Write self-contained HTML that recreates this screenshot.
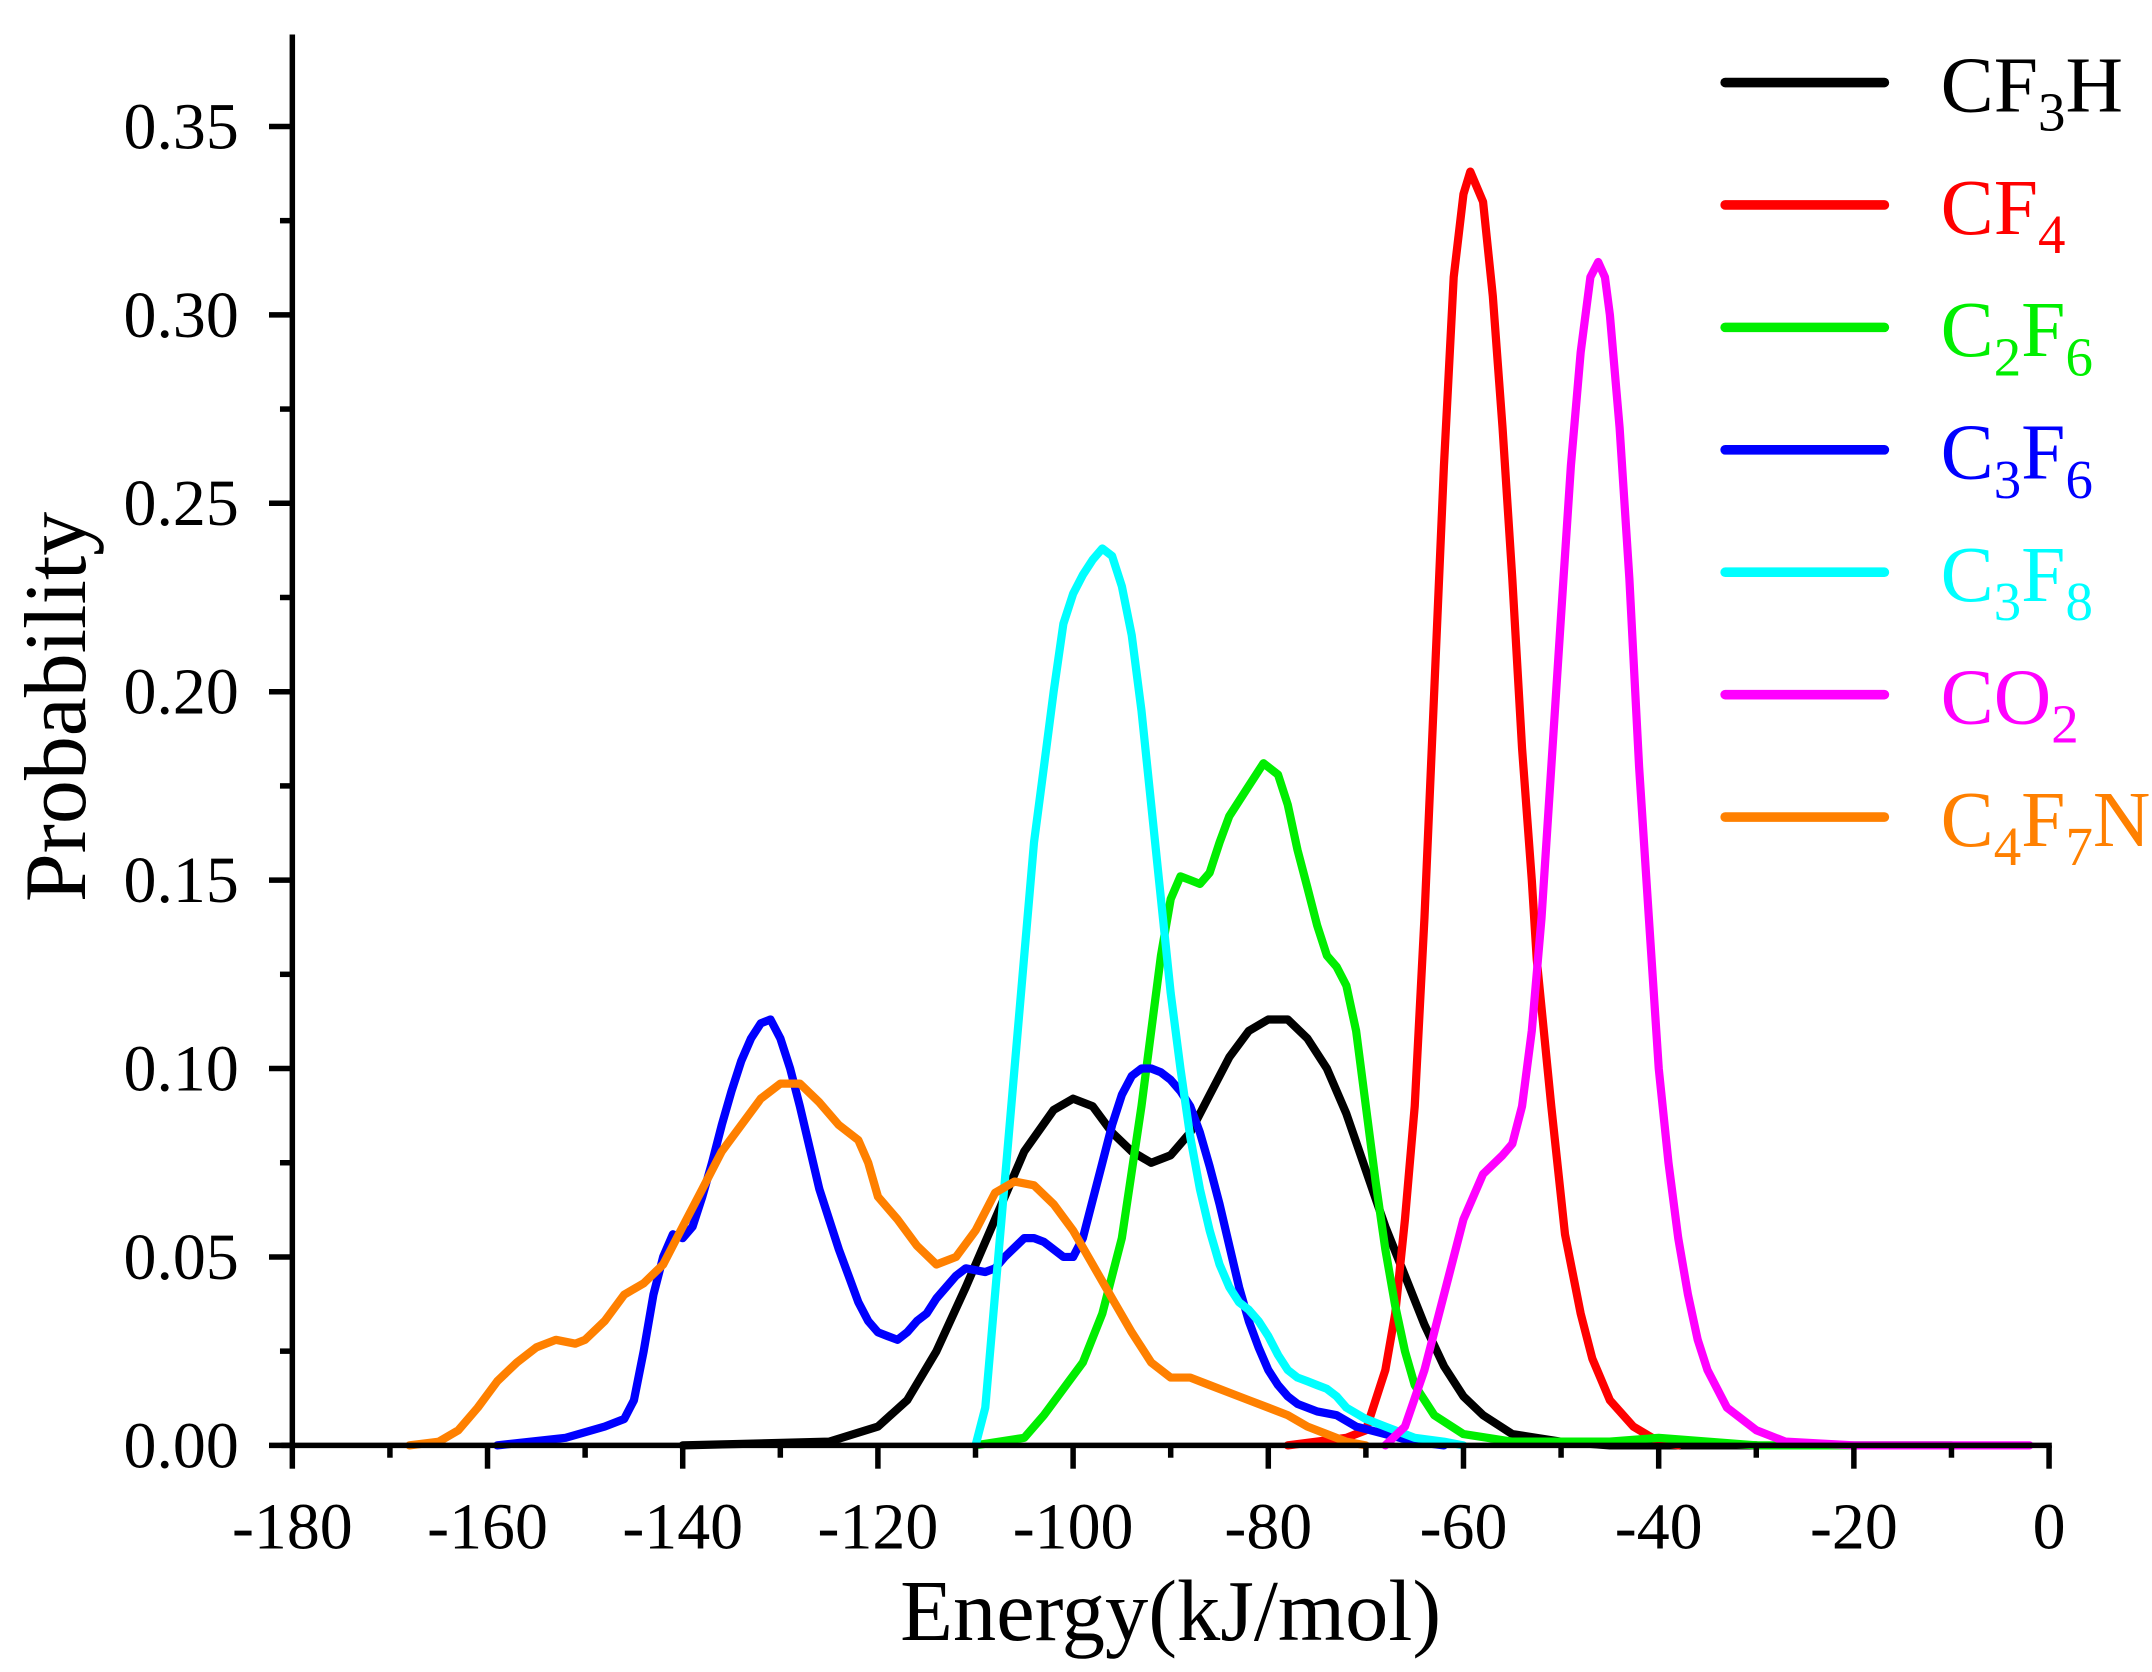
<!DOCTYPE html>
<html><head><meta charset="utf-8"><style>html,body{margin:0;padding:0;background:#fff}svg{display:block}</style></head>
<body>
<svg id="s" xmlns="http://www.w3.org/2000/svg" width="2152" height="1672" viewBox="0 0 1568 1218" font-family="'Liberation Serif', serif">
<rect width="1568" height="1218" fill="#fff"/>
<g id="curves" fill="none" stroke-width="6" stroke-linejoin="round" stroke-linecap="round"></g>
<g stroke="#000" stroke-width="4" fill="none">
<line x1="213" y1="25" x2="213" y2="1055"/>
<line x1="205" y1="1053" x2="1495" y2="1053"/>
</g>
<g id="ticks" stroke="#000" stroke-width="4"></g>
<g id="labels" font-size="48" fill="#000"></g>
<text x="853" y="1195" font-size="63" text-anchor="middle">Energy(kJ/mol)</text>
<text transform="translate(62,515) rotate(-90)" font-size="64" text-anchor="middle">Probability</text>
<g id="legend" font-size="58"></g>
</svg>
<script>
var NS="http://www.w3.org/2000/svg";
function X(e){return 1493+e*1280/180;}
function Y(p){return 1053-p*(961/0.35);}
var ticks=document.getElementById('ticks'),labels=document.getElementById('labels');
function ln(x1,y1,x2,y2){var l=document.createElementNS(NS,'line');l.setAttribute('x1',x1);l.setAttribute('y1',y1);l.setAttribute('x2',x2);l.setAttribute('y2',y2);ticks.appendChild(l);}
function tx(x,y,s,a){var t=document.createElementNS(NS,'text');t.setAttribute('x',x);t.setAttribute('y',y);t.setAttribute('text-anchor',a);t.textContent=s;labels.appendChild(t);}
for(var e=-180;e<=0;e+=10){var x=X(e);if(e%20==0){ln(x,1053,x,1070);tx(x,1128,String(e),'middle');}else ln(x,1053,x,1062);}
for(var i=0;i<=14;i++){var p=i*0.025,y=Y(p);if(i%2==0){ln(196,y,213,y);tx(174,y+16,p.toFixed(2),'end');}else ln(204,y,213,y);}
var S=[
["#000",[[-140,0],[-125,0.001],[-120,0.005],[-117,0.012],[-114,0.025],[-111,0.042],[-108,0.06],[-105,0.078],[-102,0.089],[-100,0.092],[-98,0.09],[-96,0.083],[-94,0.078],[-92,0.075],[-90,0.077],[-88,0.083],[-86,0.093],[-84,0.103],[-82,0.11],[-80,0.113],[-78,0.113],[-76,0.108],[-74,0.1],[-72,0.088],[-70,0.073],[-68,0.058],[-66,0.045],[-64,0.032],[-62,0.021],[-60,0.013],[-58,0.008],[-55,0.003],[-50,0.001],[-45,0],[-30,0]]],
["#ff0000",[[-78,0],[-72,0.002],[-70,0.004],[-68,0.02],[-67,0.035],[-66,0.06],[-65,0.09],[-64,0.14],[-63,0.2],[-62,0.26],[-61,0.31],[-60,0.332],[-59.3,0.338],[-58,0.33],[-57,0.305],[-56,0.27],[-55,0.23],[-54,0.185],[-53,0.15],[-52.5,0.129],[-51,0.09],[-49.6,0.056],[-48,0.035],[-46.8,0.023],[-45,0.012],[-42.6,0.005],[-40,0.001],[-38,0]]],
["#00ee00",[[-110,0],[-105,0.002],[-103,0.008],[-101,0.015],[-99,0.022],[-97,0.035],[-95,0.055],[-93,0.09],[-91,0.13],[-90,0.145],[-89,0.151],[-88,0.15],[-87,0.149],[-86,0.152],[-85,0.16],[-84,0.167],[-82,0.175],[-80.5,0.181],[-79,0.178],[-78,0.17],[-77,0.158],[-76,0.148],[-75,0.138],[-74,0.13],[-73,0.127],[-72,0.122],[-71,0.11],[-70,0.09],[-69,0.07],[-68,0.052],[-67,0.037],[-66,0.025],[-65,0.016],[-63,0.008],[-60,0.003],[-55,0.001],[-45,0.001],[-40,0.002],[-35,0.001],[-30,0],[-10,0]]],
["#0000ff",[[-159,0],[-152,0.002],[-148,0.005],[-146,0.007],[-145,0.012],[-144,0.025],[-143,0.04],[-142,0.05],[-141,0.056],[-140,0.055],[-139,0.058],[-138,0.066],[-137,0.075],[-136,0.085],[-135,0.094],[-134,0.102],[-133,0.108],[-132,0.112],[-131,0.113],[-130,0.108],[-129,0.1],[-128,0.09],[-127,0.079],[-126,0.068],[-125,0.06],[-124,0.052],[-123,0.045],[-122,0.038],[-121,0.033],[-120,0.03],[-119,0.029],[-118,0.028],[-117,0.03],[-116,0.033],[-115,0.035],[-114,0.039],[-113,0.042],[-112,0.045],[-111,0.047],[-109,0.046],[-108,0.047],[-107,0.05],[-105,0.055],[-104,0.055],[-103,0.054],[-102,0.052],[-101,0.05],[-100,0.05],[-99,0.055],[-98,0.065],[-97,0.075],[-96,0.085],[-95,0.093],[-94,0.098],[-93,0.1],[-92,0.1],[-91,0.099],[-90,0.097],[-89,0.094],[-88,0.09],[-87,0.083],[-86,0.074],[-85,0.064],[-84,0.053],[-83,0.042],[-82,0.033],[-81,0.026],[-80,0.02],[-79,0.016],[-78,0.013],[-77,0.011],[-75,0.009],[-73,0.008],[-71,0.005],[-68,0.003],[-65,0.001],[-62,0]]],
["#00ffff",[[-110,0],[-109,0.01],[-108,0.04],[-107,0.07],[-106,0.1],[-105,0.13],[-104,0.16],[-103,0.18],[-102,0.2],[-101,0.218],[-100,0.226],[-99,0.231],[-98,0.235],[-97,0.238],[-96,0.236],[-95,0.228],[-94,0.215],[-93,0.195],[-92,0.17],[-91,0.145],[-90,0.12],[-89,0.1],[-88,0.082],[-87,0.068],[-86,0.057],[-85,0.048],[-84,0.042],[-83,0.038],[-82,0.036],[-81,0.033],[-80,0.029],[-79,0.024],[-78,0.02],[-77,0.018],[-76,0.017],[-75,0.016],[-74,0.015],[-73,0.013],[-72,0.01],[-70,0.007],[-68,0.005],[-65,0.002],[-62,0.001],[-60,0]]],
["#ff00ff",[[-68,0],[-66,0.005],[-64,0.02],[-62,0.04],[-60,0.06],[-58,0.072],[-56,0.077],[-55,0.08],[-54,0.09],[-53,0.11],[-52,0.14],[-51,0.18],[-50,0.22],[-49,0.26],[-48,0.29],[-47,0.31],[-46.2,0.314],[-45.5,0.31],[-45,0.3],[-44,0.27],[-43,0.23],[-42,0.18],[-41,0.14],[-40,0.1],[-39,0.075],[-38,0.055],[-37,0.04],[-36,0.028],[-35,0.02],[-33,0.01],[-30,0.004],[-27,0.001],[-20,0],[-2,0]]],
["#ff8000",[[-168,0],[-165,0.001],[-163,0.004],[-161,0.01],[-159,0.017],[-157,0.022],[-155,0.026],[-153,0.028],[-151,0.027],[-150,0.028],[-148,0.033],[-146,0.04],[-144,0.043],[-142,0.048],[-140,0.058],[-138,0.068],[-136,0.078],[-134,0.085],[-132,0.092],[-130,0.096],[-128,0.096],[-126,0.091],[-124,0.085],[-122,0.081],[-121,0.075],[-120,0.066],[-118,0.06],[-116,0.053],[-114,0.048],[-112,0.05],[-110,0.057],[-108,0.067],[-106,0.07],[-104,0.069],[-102,0.064],[-100,0.057],[-98,0.048],[-96,0.039],[-94,0.03],[-92,0.022],[-90,0.018],[-88,0.018],[-86,0.016],[-84,0.014],[-82,0.012],[-80,0.01],[-78,0.008],[-76,0.005],[-74,0.003],[-72,0.001],[-70,0]]]
];
var g=document.getElementById('curves');
S.forEach(function(s){var d='';s[1].forEach(function(pt,i){d+=(i?'L':'M')+X(pt[0]).toFixed(1)+','+Y(pt[1]).toFixed(1);});var p=document.createElementNS(NS,'path');p.setAttribute('d',d);p.setAttribute('stroke',s[0]);g.appendChild(p);});
var sb="<tspan font-size='40' dy='14'>",su="</tspan><tspan dy='-14'>";
var leg=[["#000","CF"+sb+"3"+su+"H</tspan>"],["#ff0000","CF"+sb+"4</tspan>"],["#00ee00","C"+sb+"2"+su+"F</tspan>"+sb+"6</tspan>"],["#0000ff","C"+sb+"3"+su+"F</tspan>"+sb+"6</tspan>"],["#00ffff","C"+sb+"3"+su+"F</tspan>"+sb+"8</tspan>"],["#ff00ff","CO"+sb+"2</tspan>"],["#ff8000","C"+sb+"4"+su+"F</tspan>"+sb+"7"+su+"N</tspan>"]];
var L=document.getElementById('legend'),h='';
leg.forEach(function(l,i){var y=60+i*89.2;h+="<line x1='1257' y1='"+y+"' x2='1373' y2='"+y+"' stroke='"+l[0]+"' stroke-width='7' stroke-linecap='round'/><text x='1414' y='"+(y+21)+"' fill='"+l[0]+"'>"+l[1]+"</text>";});
L.innerHTML=h;
</script>
</body></html>
